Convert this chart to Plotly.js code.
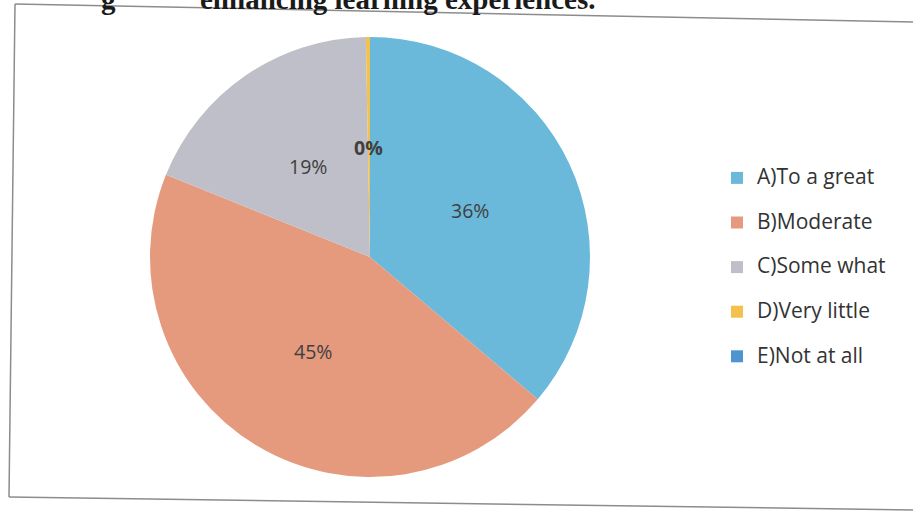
<!DOCTYPE html>
<html>
<head>
<meta charset="utf-8">
<script src="https://cdn.plot.ly/plotly-3.0.1.min.js"></script>
<style>html,body{margin:0;padding:0;background:#fff;}#chart{width:913px;height:512px;}</style>
</head>
<body>
<div id="chart"></div>
<script>
const categories = ['A)To a great', 'B)Moderate', 'C)Some what', 'D)Very little', 'E)Not at all'];
const values = [36.2, 44.9, 18.6, 0.3, 0];
const colors = ['#6BB9DA', '#E59A7E', '#BFBFC9', '#F2C14E', '#4F93D1'];
const boldLabel = [false, false, false, true, false];
const titleText = 'enhancing learning experiences.';

const W = 913, H = 512;
// pie geometry (pixels)
const cx = 370, cy = 257, R = 220;
const dom = {x: [(cx - R) / W, (cx + R) / W], y: [1 - (cy + R) / H, 1 - (cy - R) / H]};

const legendLabels = categories.map(c => '<span style="font-size:21px">' + c + '</span><br>\u00a0');

const total = values.reduce((a, b) => a + b, 0);
const labelFont = {family: '"Open Sans", Lato, sans-serif', size: 19.5, color: '#404040'};

// percentage labels at the mid angle of each non-empty slice, half a radius out
const annotations = [];
let cum = 0;
values.forEach((v, i) => {
  const mid = (cum + v / 2) / total;
  cum += v;
  if (v <= 0) return;
  const ang = 2 * Math.PI * mid;
  const rl = 0.5 * R;
  const px = cx + rl * Math.sin(ang), py = cy - rl * Math.cos(ang);
  const pct = Math.round(v / total * 100) + '%';
  annotations.push({
    text: boldLabel[i] ? '<b>' + pct + '</b>' : pct,
    x: px / W, y: 1 - py / H, xref: 'paper', yref: 'paper',
    xanchor: 'center', yanchor: 'middle', showarrow: false, font: labelFont
  });
});

const titleFont = {family: '"Liberation Serif", "DejaVu Serif", serif', size: 29, color: '#1a1a1a'};
annotations.push(
  {text: '<b>' + titleText + '</b>', x: 198 / W, xanchor: 'left', y: 1 + 1 / H, yanchor: 'middle',
   xref: 'paper', yref: 'paper', showarrow: false, font: titleFont},
  {text: '<b>g</b>', x: 99 / W, xanchor: 'left', y: 1 + 1 / H, yanchor: 'middle',
   xref: 'paper', yref: 'paper', showarrow: false, font: titleFont}
);

const trace = {
  type: 'pie',
  labels: legendLabels,
  values: values,
  sort: false,
  direction: 'clockwise',
  rotation: 0,
  domain: dom,
  marker: {colors: colors, line: {width: 0}},
  textinfo: 'none',
  textposition: 'none',
  hoverinfo: 'label+percent',
  showlegend: true
};

const layout = {
  width: W, height: H,
  margin: {l: 0, r: 0, t: 0, b: 0},
  paper_bgcolor: '#ffffff',
  showlegend: true,
  legend: {
    x: 717 / W, xanchor: 'left',
    y: 1 - 161 / H, yanchor: 'top',
    valign: 'top',
    font: {family: '"Open Sans", Lato, sans-serif', size: 16, color: '#333333'},
    bgcolor: 'rgba(0,0,0,0)'
  },
  shapes: [
    {type: 'line', xref: 'paper', yref: 'paper', x0: 15 / W, y0: 1 - 4 / H, x1: 1, y1: 1 - 22 / H, line: {color: '#8c8c8c', width: 1.5}},
    {type: 'line', xref: 'paper', yref: 'paper', x0: 15 / W, y0: 1 - 4 / H, x1: 9 / W, y1: 1 - 497 / H, line: {color: '#8c8c8c', width: 1.5}},
    {type: 'line', xref: 'paper', yref: 'paper', x0: 9 / W, y0: 1 - 497 / H, x1: 1, y1: 1 - 510 / H, line: {color: '#8c8c8c', width: 1.5}}
  ],
  annotations: annotations
};

Plotly.newPlot('chart', [trace], layout, {displayModeBar: false, staticPlot: true});
</script>
</body>
</html>
